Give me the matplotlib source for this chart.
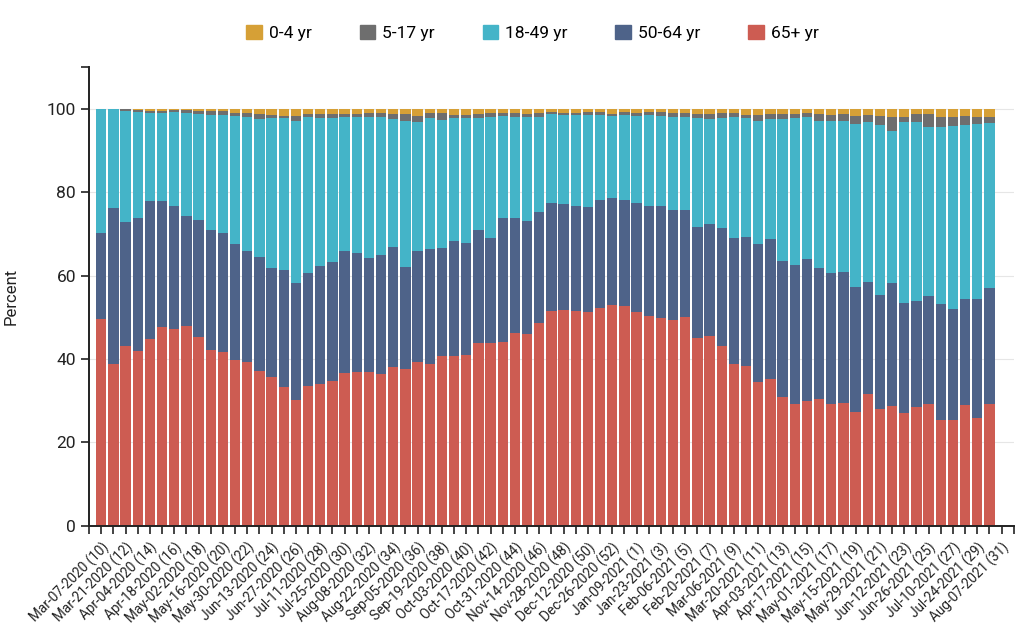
import numpy as np
import matplotlib
matplotlib.use("Agg")
import matplotlib.pyplot as plt
from matplotlib.patches import Patch

plt.rcParams['font.family'] = ['Roboto', 'DejaVu Sans']

# weekly share of hospitalizations by age group (percent), Mar-07-2020 (wk 10) .. Jul-31-2021 (wk 30)
age_65 = [49.7, 38.8, 43.0, 41.9, 44.8, 47.6, 47.2, 47.8, 45.2, 42.1,
          41.6, 39.7, 39.3, 37.2, 35.6, 33.2, 30.1, 33.5, 34.0, 34.7,
          36.6, 36.8, 37.0, 36.4, 38.1, 37.5, 39.2, 38.8, 40.8, 40.8,
          41.0, 43.9, 43.9, 44.1, 46.2, 46.0, 48.6, 51.4, 51.7, 51.4,
          51.2, 52.2, 53.0, 52.6, 51.2, 50.2, 49.9, 49.4, 50.0, 45.1,
          45.5, 43.1, 38.8, 38.3, 34.5, 35.3, 30.9, 29.3, 30.0, 30.4,
          29.1, 29.4, 27.3, 31.5, 28.0, 28.8, 27.1, 28.4, 29.3, 25.4,
          25.4, 28.9, 25.9, 29.2]
age_50_64 = [20.6, 37.3, 29.7, 31.8, 33.0, 30.3, 29.4, 26.4, 28.1, 28.9,
             28.6, 27.9, 26.5, 27.2, 26.3, 28.1, 28.0, 27.0, 28.3, 28.5,
             29.3, 28.6, 27.3, 28.5, 28.7, 24.6, 26.6, 27.5, 25.7, 27.5,
             26.7, 27.1, 25.2, 29.7, 27.5, 27.0, 26.6, 26.0, 25.5, 25.3,
             25.1, 25.8, 25.6, 25.5, 26.2, 26.4, 26.7, 26.4, 25.8, 26.6,
             26.8, 28.3, 30.1, 30.9, 33.1, 33.4, 32.6, 33.1, 34.0, 31.3,
             31.5, 31.5, 30.0, 26.9, 27.3, 29.3, 26.2, 25.5, 25.9, 27.7,
             26.5, 25.5, 28.5, 27.8]
age_18_49 = [29.7, 23.9, 26.6, 25.5, 21.2, 21.1, 22.5, 24.8, 25.5, 27.4,
             28.2, 30.6, 32.2, 33.1, 35.8, 36.4, 38.9, 37.4, 35.5, 34.6,
             32.0, 32.6, 33.7, 33.1, 30.6, 34.9, 30.9, 31.4, 30.7, 29.5,
             30.0, 26.8, 28.8, 24.4, 24.3, 24.9, 22.8, 21.3, 21.3, 21.7,
             22.1, 20.4, 19.6, 20.3, 20.8, 21.8, 21.6, 22.2, 22.2, 26.1,
             25.1, 26.3, 29.0, 28.5, 29.5, 28.9, 33.9, 35.4, 34.0, 35.4,
             36.4, 36.0, 38.9, 38.4, 40.7, 36.6, 43.4, 42.8, 40.4, 42.4,
             43.9, 41.6, 41.8, 39.6]
age_5_17 = [0.0, 0.0, 0.7, 0.4, 0.5, 0.5, 0.5, 0.6, 0.7, 0.9,
            0.9, 0.8, 1.0, 1.2, 0.7, 0.5, 1.3, 0.9, 1.0, 1.0,
            0.9, 0.8, 1.0, 1.0, 1.4, 1.8, 1.5, 1.3, 1.8, 0.6,
            0.8, 1.0, 1.1, 0.8, 1.0, 0.9, 1.0, 0.5, 0.5, 0.6,
            0.8, 0.8, 0.6, 0.8, 0.8, 0.8, 1.0, 1.0, 1.0, 1.0,
            1.4, 1.3, 1.1, 0.8, 1.4, 1.2, 1.4, 1.0, 1.0, 1.5,
            1.5, 1.7, 2.0, 1.6, 2.2, 3.3, 1.3, 2.1, 3.2, 2.4,
            2.1, 2.2, 1.7, 1.4]
age_0_4 = [0.0, 0.0, 0.0, 0.4, 0.5, 0.5, 0.4, 0.4, 0.5, 0.7,
           0.7, 1.0, 1.0, 1.3, 1.6, 1.8, 1.7, 1.2, 1.2, 1.2,
           1.2, 1.2, 1.0, 1.0, 1.2, 1.2, 1.8, 1.0, 1.0, 1.6,
           1.5, 1.2, 1.0, 1.0, 1.0, 1.2, 1.0, 0.8, 1.0, 1.0,
           0.8, 0.8, 1.2, 0.8, 1.0, 0.8, 0.8, 1.0, 1.0, 1.2,
           1.2, 1.0, 1.0, 1.5, 1.5, 1.2, 1.2, 1.2, 1.0, 1.4,
           1.5, 1.4, 1.8, 1.6, 1.8, 2.0, 2.0, 1.2, 1.2, 2.1,
           2.1, 1.8, 2.1, 2.0]

# tick labels every other week; 75 week slots, the last one (wk 31) has no data yet
n_slots = 75
week_labels = ['Mar-07-2020 (10)', 'Mar-21-2020 (12)', 'Apr-04-2020 (14)', 'Apr-18-2020 (16)',
               'May-02-2020 (18)', 'May-16-2020 (20)', 'May-30-2020 (22)', 'Jun-13-2020 (24)',
               'Jun-27-2020 (26)', 'Jul-11-2020 (28)', 'Jul-25-2020 (30)', 'Aug-08-2020 (32)',
               'Aug-22-2020 (34)', 'Sep-05-2020 (36)', 'Sep-19-2020 (38)', 'Oct-03-2020 (40)',
               'Oct-17-2020 (42)', 'Oct-31-2020 (44)', 'Nov-14-2020 (46)', 'Nov-28-2020 (48)',
               'Dec-12-2020 (50)', 'Dec-26-2020 (52)', 'Jan-09-2021 (1)', 'Jan-23-2021 (3)',
               'Feb-06-2021 (5)', 'Feb-20-2021 (7)', 'Mar-06-2021 (9)', 'Mar-20-2021 (11)',
               'Apr-03-2021 (13)', 'Apr-17-2021 (15)', 'May-01-2021 (17)', 'May-15-2021 (19)',
               'May-29-2021 (21)', 'Jun-12-2021 (23)', 'Jun-26-2021 (25)', 'Jul-10-2021 (27)',
               'Jul-24-2021 (29)', 'Aug-07-2021 (31)']

series = [('65+ yr', age_65, '#cd5c52'),
          ('50-64 yr', age_50_64, '#4e6389'),
          ('18-49 yr', age_18_49, '#44b4c8'),
          ('5-17 yr', age_5_17, '#6e6e6e'),
          ('0-4 yr', age_0_4, '#d6a036')]

fig = plt.figure(figsize=(10.24, 6.36), dpi=100)
ax = fig.add_axes([0.087, 0.173, 0.903, 0.722])

x = np.arange(len(age_65))
bottom = np.zeros(len(x))
for name, vals, col in series:
    ax.bar(x, vals, bottom=bottom, width=0.86, color=col, label=name, zorder=2)
    bottom += np.array(vals)

ax.set_xlim(-1, n_slots)
ax.set_ylim(0, 110)

# labelled ticks on every other week, unlabelled ticks on the rest and at the axis ends
ax.set_xticks(np.arange(0, n_slots, 2))
ax.set_xticklabels(week_labels, rotation=45, ha='right',
                   rotation_mode='anchor', fontsize=9.8, color='#222222')
ax.set_xticks(list(np.arange(-1, n_slots + 1, 2)), minor=True)
ax.tick_params(axis='x', which='both', length=6, width=1.2, color='#222222', pad=4)

ax.set_yticks([0, 20, 40, 60, 80, 100])
ax.set_yticklabels(['0', '20', '40', '60', '80', '100'], fontsize=12.5, color='#222222')
ax.set_yticks([110], minor=True)
ax.tick_params(axis='y', which='both', length=6, width=1.2, color='#222222')
ax.yaxis.grid(True, which='major', color='#e6e6e6', linewidth=0.8, zorder=0)
ax.set_axisbelow(True)

for s in ['top', 'right']:
    ax.spines[s].set_visible(False)
for s in ['left', 'bottom']:
    ax.spines[s].set_linewidth(1.4)
    ax.spines[s].set_color('#222222')

ax.set_ylabel('Percent', fontsize=12, color='#222222', labelpad=20)

handles = [Patch(color=c, label=n) for n, v, c in series[::-1]]
fig.legend(handles=handles, loc='center', bbox_to_anchor=(0.52, 0.948), ncol=5,
           frameon=False, fontsize=12.5, handlelength=0.9, handleheight=0.9,
           handletextpad=0.4, columnspacing=2.75)

fig.savefig('out.png', dpi=100, facecolor='white')
